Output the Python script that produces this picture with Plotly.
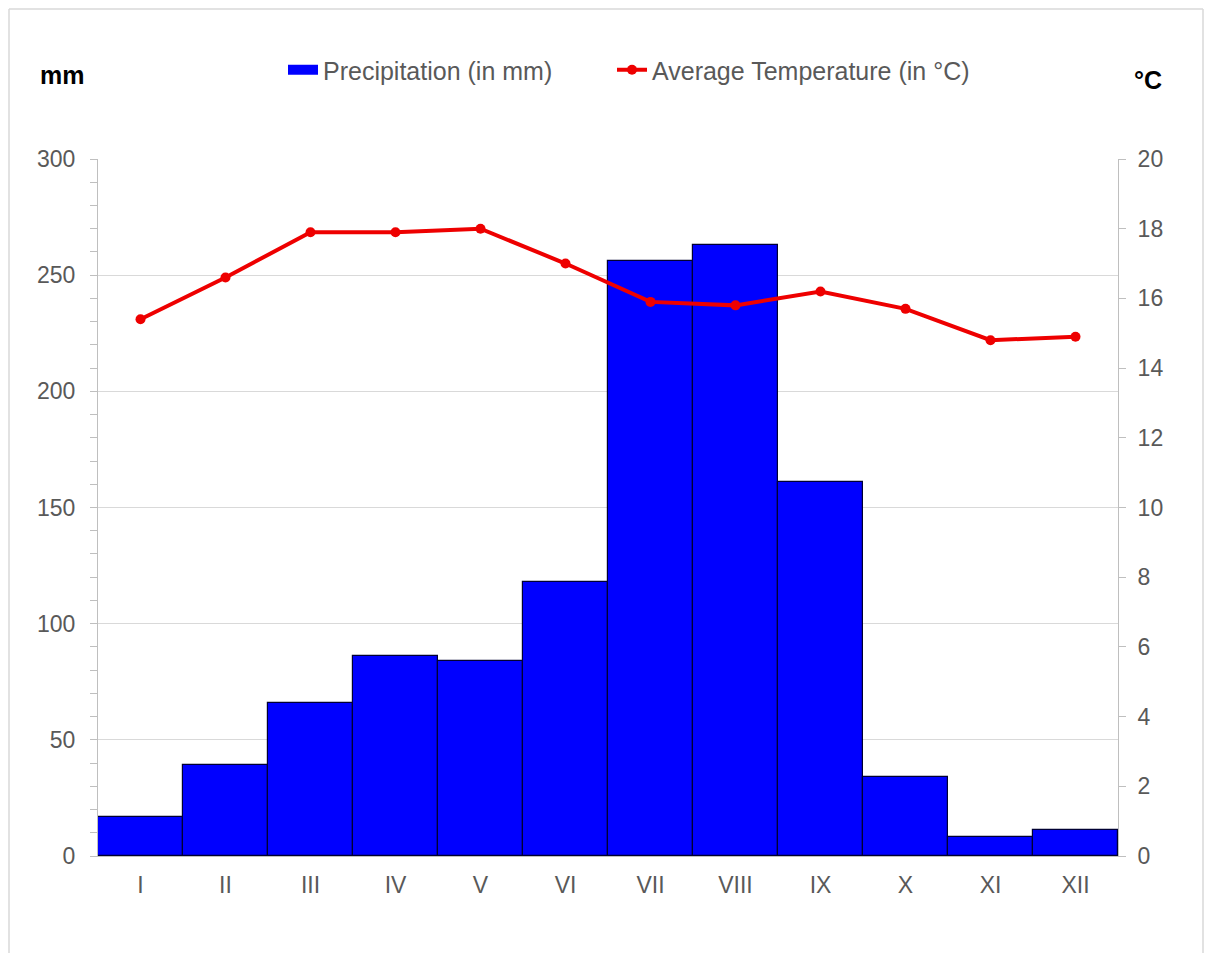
import plotly.graph_objects as go

months = ["I", "II", "III", "IV", "V", "VI", "VII", "VIII", "IX", "X", "XI", "XII"]
precip = [17, 39, 66, 86, 84, 118, 256, 263, 161, 34, 8, 11]
temp = [15.4, 16.6, 17.9, 17.9, 18.0, 17.0, 15.9, 15.8, 16.2, 15.7, 14.8, 14.9]

FONT = "Liberation Sans, Arial, sans-serif"

# page body has an 8px margin; work in figure coordinates
W, H = 1196, 945
L, R, T, B = 90, 86, 151, 97
PW, PH = W - L - R, H - T - B

fig = go.Figure()
fig.add_trace(go.Bar(
    x=months, y=precip, name="Precipitation (in mm)",
    marker=dict(color="#0000FF", line=dict(color="#000033", width=1.2)),
    yaxis="y", showlegend=False, legendgroup="p",
))
# legend proxy: wide blue rectangle like the reference key
fig.add_trace(go.Scatter(
    x=[months[0]], y=[None], name="Precipitation (in mm)",
    mode="lines", line=dict(color="#0000FF", width=13),
    yaxis="y", legendgroup="p", legend="legend",
))
fig.add_trace(go.Scatter(
    x=months, y=temp, name="Average Temperature (in °C)",
    mode="lines+markers",
    line=dict(color="#EE0000", width=4),
    marker=dict(color="#EE0000", size=10),
    yaxis="y2", legend="legend2",
))

legend_common = dict(orientation="h", xanchor="left", yanchor="middle",
                     y=1 + (T - 62) / PH, bgcolor="rgba(0,0,0,0)",
                     font=dict(family=FONT, size=25, color="#595959"))

fig.update_layout(
    width=W, height=H,
    paper_bgcolor="white", plot_bgcolor="white",
    margin=dict(l=L, r=R, t=T, b=B),
    bargap=0,
    font=dict(family=FONT, size=23, color="#595959"),
    showlegend=True,
    legend=dict(x=(275 - L) / PW, **legend_common),
    legend2=dict(x=(604 - L) / PW, **legend_common),
    xaxis=dict(range=[-0.5, 11.5], showline=True, linecolor="#BFBFBF", linewidth=1,
               ticks="", tickfont=dict(size=23, color="#595959"), showgrid=False,
               ticklabelstandoff=8),
    yaxis=dict(range=[0, 300], dtick=50, showgrid=True, gridcolor="#D9D9D9", gridwidth=1,
               showline=True, linecolor="#BFBFBF", linewidth=1,
               ticks="outside", ticklen=7, tickcolor="#BFBFBF",
               minor=dict(dtick=10, ticks="outside", ticklen=7, tickcolor="#BFBFBF", showgrid=False),
               tickfont=dict(size=23, color="#595959"), zeroline=False, ticklabelstandoff=10),
    yaxis2=dict(range=[0, 20], dtick=2, overlaying="y", side="right", showgrid=False,
                showline=True, linecolor="#BFBFBF", linewidth=1,
                ticks="outside", ticklen=7, tickcolor="#BFBFBF",
                tickfont=dict(size=23, color="#595959"), zeroline=False, ticklabelstandoff=7),
    shapes=[
        dict(type="line", xref="paper", yref="paper",
             x0=-(L - 1) / PW, x1=1 + (R - 1) / PW, y0=1 + (T - 1) / PH, y1=1 + (T - 1) / PH,
             line=dict(color="#D9D9D9", width=1.5)),
        dict(type="line", xref="paper", yref="paper",
             x0=-(L - 1) / PW, x1=-(L - 1) / PW, y0=-B / PH, y1=1 + (T - 1) / PH,
             line=dict(color="#D9D9D9", width=1.5)),
        dict(type="line", xref="paper", yref="paper",
             x0=1 + (R - 1) / PW, x1=1 + (R - 1) / PW, y0=-B / PH, y1=1 + (T - 1) / PH,
             line=dict(color="#D9D9D9", width=1.5)),
    ],
    annotations=[
        dict(text="<b>mm</b>", xref="paper", yref="paper", x=(54 - L) / PW, y=1 + (T - 67) / PH,
             xanchor="center", yanchor="middle", showarrow=False,
             font=dict(family=FONT, size=25, color="black")),
        dict(text="<b>°C</b>", xref="paper", yref="paper", x=(1140 - L) / PW, y=1 + (T - 72) / PH,
             xanchor="center", yanchor="middle", showarrow=False,
             font=dict(family=FONT, size=25, color="black")),
    ],
)

fig.write_html("out.html")
